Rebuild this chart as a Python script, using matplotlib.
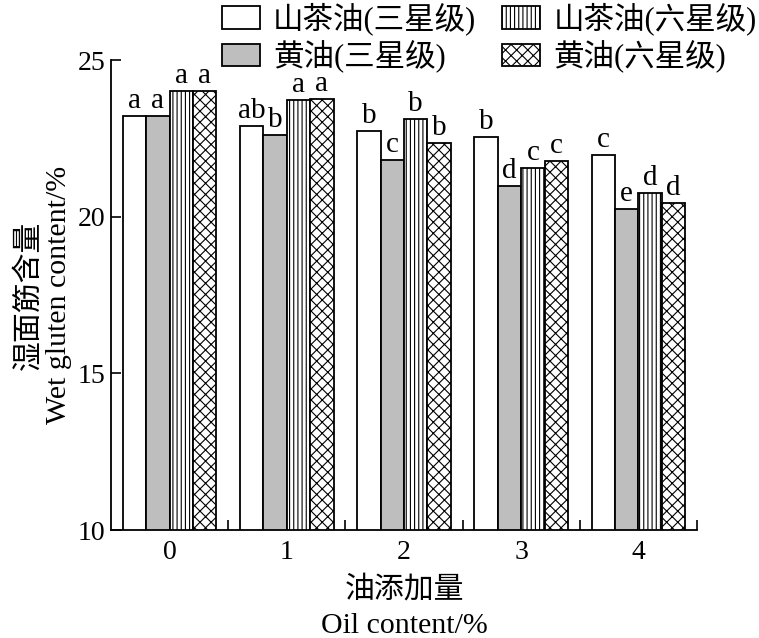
import matplotlib
matplotlib.use("Agg")
import matplotlib.pyplot as plt
import numpy as np

plt.rcParams['font.family'] = ['Liberation Serif', 'Noto Sans CJK SC']
plt.rcParams['hatch.linewidth'] = 0.8

groups = ['0', '1', '2', '3', '4']
series_names = ['山茶油(三星级)', '黄油(三星级)', '山茶油(六星级)', '黄油(六星级)']
camellia3 = [23.21, 22.90, 22.74, 22.54, 21.97]
butter3 = [23.21, 22.60, 21.81, 20.98, 20.24]
camellia6 = [24.02, 23.72, 23.12, 21.55, 20.75]
butter6 = [24.02, 23.75, 22.36, 21.78, 20.43]
letters_c3 = ['a', 'ab', 'b', 'b', 'c']
letters_b3 = ['a', 'b', 'c', 'd', 'e']
letters_c6 = ['a', 'a', 'b', 'c', 'd']
letters_b6 = ['a', 'a', 'b', 'c', 'd']
yticks = [10, 15, 20, 25]

series = [camellia3, butter3, camellia6, butter6]
letters = [letters_c3, letters_b3, letters_c6, letters_b6]
faces = ['white', '#bebebe', 'white', 'white']
hatches = [None, None, '||||', 'xxx']

fig = plt.figure(figsize=(7.59, 6.38), dpi=100)
ax = fig.add_axes([111/759, 1-530/638, (697-111)/759, (530-60)/638])

x = np.arange(len(groups))
w = 0.2
offsets = [-0.3, -0.1, 0.1, 0.3]
handles = []
for vals, lets, fc, h, off, name in zip(series, letters, faces, hatches, offsets, series_names):
    b = ax.bar(x + off, vals, w, bottom=0, color=fc, edgecolor='black',
               linewidth=1.3, hatch=h, label=name)
    handles.append(b)
    for xi, v, l in zip(x + off, vals, lets):
        ax.text(xi, v + 0.06, l, ha='center', va='bottom', fontsize=21)

ax.set_xlim(-0.5, 4.5)
ax.set_ylim(10, 25)
ax.set_yticks(yticks)
ax.set_xticks(x)
ax.set_xticklabels(groups)
ax.set_xticks(np.arange(0.5, 5.0, 1.0), minor=True)
ax.tick_params(axis='x', which='major', length=0, labelsize=20, pad=7)
ax.tick_params(axis='x', which='minor', direction='in', length=7, width=1.2)
ax.tick_params(axis='y', direction='in', length=7, width=1.2, labelsize=20, pad=4)
for s in ['top', 'right']:
    ax.spines[s].set_visible(False)
for s in ['left', 'bottom']:
    ax.spines[s].set_linewidth(1.3)

ax.set_ylabel('湿面筋含量\nWet gluten content/%', fontsize=21.5, linespacing=1.2, labelpad=4)
ax.set_xlabel('油添加量\nOil content/%', fontsize=21.5, linespacing=1.45, labelpad=8)

fig.legend(handles=handles, ncol=2, loc='upper right', bbox_to_anchor=(1.0, 1.0),
           frameon=False, fontsize=22, handlelength=1.25, handleheight=0.75,
           columnspacing=0.85, handletextpad=0.42, labelspacing=0.15,
           borderaxespad=0.0, borderpad=0.08)

fig.savefig('out.png', dpi=100)
